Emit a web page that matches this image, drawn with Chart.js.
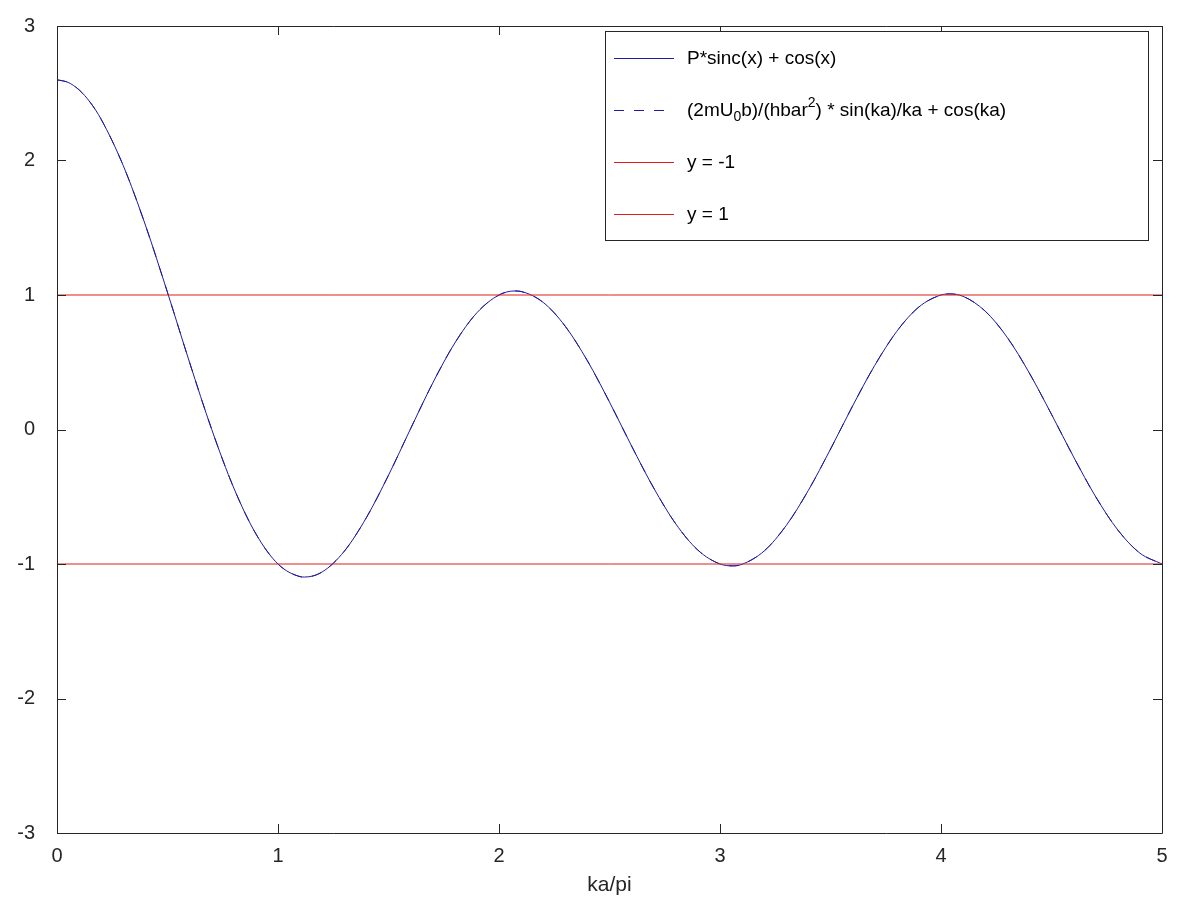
<!DOCTYPE html>
<html>
<head>
<meta charset="utf-8">
<title>Kronig-Penney</title>
<script src="https://cdn.jsdelivr.net/npm/chart.js@4"></script>
<style>
  html, body { margin: 0; padding: 0; background: #fff; }
  canvas { display: block; }
</style>
</head>
<body>
<canvas id="chart" width="1200" height="900"></canvas>
<script>
// values (x in units of ka/pi)
var kaOverPi = [
    0, 0.05, 0.1, 0.15, 0.2, 0.3, 0.4, 0.5, 0.6, 0.7, 0.8, 0.9,
    1.0, 1.1, 1.12, 1.2, 1.3, 1.4, 1.5, 1.6, 1.7, 1.8, 1.9,
    2.0, 2.07, 2.1, 2.2, 2.3, 2.4, 2.5, 2.6, 2.7, 2.8, 2.9,
    3.0, 3.06, 3.1, 3.2, 3.3, 3.4, 3.5, 3.6, 3.7, 3.8, 3.9,
    4.0, 4.04, 4.1, 4.2, 4.3, 4.4, 4.5, 4.6, 4.7, 4.8, 4.9,
    5.0
];
var lhsValues = [
    2.600, 2.581, 2.525, 2.433, 2.306, 1.961, 1.520, 1.019, 0.498, 0.001, -0.435, -0.776,
    -1.000, -1.094, -1.097, -1.059, -0.905, -0.655, -0.340, 0.006, 0.345, 0.643, 0.868,
    1.000, 1.030, 1.026, 0.945, 0.767, 0.511, 0.204, -0.123, -0.435, -0.702, -0.897,
    -1.000, -1.014, -1.002, -0.903, -0.713, -0.452, -0.146, 0.175, 0.476, 0.730, 0.911,
    1.000, 1.008, 0.990, 0.880, 0.684, 0.419, 0.113, -0.204, -0.500, -0.747, -0.919,
    -1.000
];
var xRange = [0, 5];
var bandEdges = [-1, 1];
var seriesNames = [
    'P*sinc(x) + cos(x)',
    '(2mU_0b)/(hbar^2) * sin(ka)/ka + cos(ka)',
    'y = -1',
    'y = 1'
];

var FONT = '"Liberation Sans", Arial, Helvetica, sans-serif';
var INK = '#262626';
var BLUE = '#1c1c9c';
var RED = '#e01c1c';

function curvePoints() {
    return kaOverPi.map(function (x, i) { return { x: x, y: lhsValues[i] }; });
}

// draws text with octave style _x and ^x sub/superscripts
function drawRichText(ctx, text, x, y, size) {
    var cx = x;
    var buf = '';
    function flush() {
        if (!buf) return;
        ctx.font = size + 'px ' + FONT;
        ctx.fillText(buf, cx, y);
        cx += ctx.measureText(buf).width;
        buf = '';
    }
    for (var i = 0; i < text.length; i++) {
        var ch = text[i];
        if ((ch === '_' || ch === '^') && i + 1 < text.length) {
            flush();
            var s = text[i + 1];
            var small = Math.round(size * 0.72);
            ctx.font = small + 'px ' + FONT;
            var dy = ch === '_' ? size * 0.32 : -size * 0.42;
            ctx.fillText(s, cx, y + dy);
            cx += ctx.measureText(s).width;
            i++;
        } else {
            buf += ch;
        }
    }
    flush();
}

var frameAndTicks = {
    id: 'frameAndTicks',
    afterDatasetsDraw: function (chart) {
        var ctx = chart.ctx;
        var a = chart.chartArea;
        var len = 9;
        ctx.save();
        ctx.strokeStyle = INK;
        ctx.lineWidth = 1;
        ctx.beginPath();
        ctx.rect(Math.round(a.left) + 0.5, Math.round(a.top) + 0.5,
                 Math.round(a.right - a.left), Math.round(a.bottom - a.top));
        chart.scales.x.ticks.forEach(function (t) {
            var px = Math.round(chart.scales.x.getPixelForValue(t.value)) + 0.5;
            ctx.moveTo(px, a.bottom); ctx.lineTo(px, a.bottom - len);
            ctx.moveTo(px, a.top); ctx.lineTo(px, a.top + len);
        });
        chart.scales.y.ticks.forEach(function (t) {
            var py = Math.round(chart.scales.y.getPixelForValue(t.value)) + 0.5;
            ctx.moveTo(a.left, py); ctx.lineTo(a.left + len, py);
            ctx.moveTo(a.right, py); ctx.lineTo(a.right - len, py);
        });
        ctx.stroke();
        ctx.restore();
    }
};

var boxedLegend = {
    id: 'boxedLegend',
    afterDraw: function (chart) {
        var ctx = chart.ctx;
        var box = { left: 605.5, top: 31.5, right: 1148.5, bottom: 240.5 };
        var rows = [58, 110, 162, 214];
        ctx.save();
        ctx.fillStyle = '#fff';
        ctx.fillRect(box.left, box.top, box.right - box.left, box.bottom - box.top);
        ctx.strokeStyle = INK;
        ctx.lineWidth = 1;
        ctx.strokeRect(box.left, box.top, box.right - box.left, box.bottom - box.top);
        chart.data.datasets.forEach(function (ds, i) {
            var y = rows[i] + 0.5;
            ctx.strokeStyle = ds.borderColor;
            ctx.lineWidth = 1;
            ctx.setLineDash(ds.borderDash || []);
            ctx.beginPath();
            ctx.moveTo(614, y);
            ctx.lineTo(674, y);
            ctx.stroke();
            ctx.setLineDash([]);
            ctx.fillStyle = '#000';
            ctx.textBaseline = 'middle';
            ctx.textAlign = 'left';
            drawRichText(ctx, ds.label, 687, rows[i] + 1, 19);
        });
        ctx.restore();
    }
};

new Chart(document.getElementById('chart'), {
    type: 'line',
    data: {
        datasets: [
            {
                label: seriesNames[0],
                data: curvePoints(),
                borderColor: BLUE,
                borderWidth: 1,
                pointRadius: 0,
                cubicInterpolationMode: 'monotone',
                order: 3
            },
            {
                label: seriesNames[1],
                data: curvePoints(),
                borderColor: BLUE,
                borderWidth: 1,
                borderDash: [10, 10],
                pointRadius: 0,
                cubicInterpolationMode: 'monotone',
                order: 2
            },
            {
                label: seriesNames[2],
                data: xRange.map(function (x) { return { x: x, y: bandEdges[0] }; }),
                borderColor: RED,
                borderWidth: 1,
                pointRadius: 0,
                order: 1
            },
            {
                label: seriesNames[3],
                data: xRange.map(function (x) { return { x: x, y: bandEdges[1] }; }),
                borderColor: RED,
                borderWidth: 1,
                pointRadius: 0,
                order: 0
            }
        ]
    },
    options: {
        responsive: false,
        animation: false,
        layout: { padding: { top: 25, right: 38, left: 0, bottom: 0 } },
        plugins: {
            legend: { display: false },
            tooltip: { enabled: false }
        },
        scales: {
            x: {
                type: 'linear',
                min: xRange[0],
                max: xRange[1],
                grid: { display: false },
                border: { display: false },
                ticks: {
                    stepSize: 1,
                    padding: 3,
                    color: INK,
                    font: { family: FONT, size: 20 }
                },
                title: {
                    display: true,
                    text: 'ka/pi',
                    color: INK,
                    font: { family: FONT, size: 21 },
                    padding: { top: 0, bottom: 2 }
                },
                afterFit: function (scale) { scale.height = 67; }
            },
            y: {
                min: -3,
                max: 3,
                grid: { display: false },
                border: { display: false },
                ticks: {
                    stepSize: 1,
                    padding: 14,
                    color: INK,
                    font: { family: FONT, size: 20 }
                },
                afterFit: function (scale) { scale.width = 57; }
            }
        }
    },
    plugins: [frameAndTicks, boxedLegend]
});
</script>
</body>
</html>
